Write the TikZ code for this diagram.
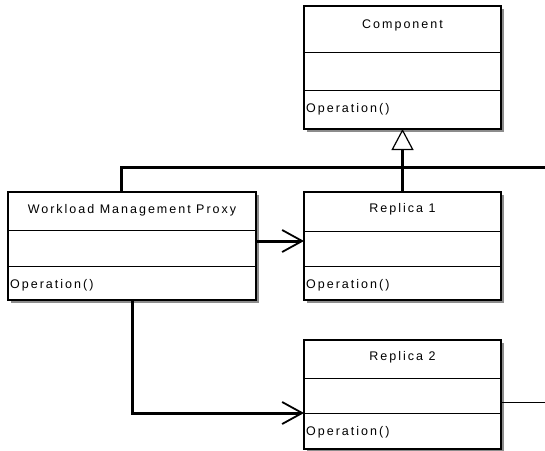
\documentclass[tikz,border=0pt]{standalone}
\usepackage{fontspec}
\setmainfont{Liberation Sans}[LetterSpace=16]
\usetikzlibrary{arrows.meta,shadows}
\begin{document}
\begin{tikzpicture}[x=1pt,y=-1pt,
  cls/.style={draw, line width=1.6pt, fill=white, inner sep=0pt, outer sep=0pt,
    drop shadow={shadow xshift=2.5pt, shadow yshift=-2.5pt, fill=black!45, opacity=1}},
  div/.style={line width=1pt},
  ttl/.style={font=\fontsize{12.5}{14}\selectfont, inner sep=0pt},
  op/.style={font=\fontsize{12.5}{14}\selectfont, inner sep=0pt, anchor=west},
  conn/.style={line width=3pt},
  nav/.style={conn, -{Straight Barb[length=20pt, width=22pt, line width=1.8pt]}},
  gen/.style={conn, -{Triangle[open, length=21pt, width=22pt, line width=1.2pt, fill=white]}}
]
\useasboundingbox (0,0) rectangle (545,450);

% classes
\node[cls, minimum width=197pt, minimum height=123pt] (comp) at (402.5,67.5) {};
\node[cls, minimum width=248pt, minimum height=108pt] (wmp) at (132,246) {};
\node[cls, minimum width=197pt, minimum height=108pt] (rep1) at (402.5,246) {};
\node[cls, minimum width=197pt, minimum height=109pt] (rep2) at (402.5,394.5) {};

% dividers
\draw[div] (304,52) -- (501,52);
\draw[div] (304,90) -- (501,90);
\draw[div] (8,230) -- (256,230);
\draw[div] (8,266) -- (256,266);
\draw[div] (304,231) -- (501,231);
\draw[div] (304,266) -- (501,266);
\draw[div] (304,378) -- (501,378);
\draw[div] (304,413) -- (501,413);

% texts
\node[ttl] (compT) at (402.5,25) {Component};
\node[ttl] (wmpT) at (132,210) {Workload Management Proxy};
\node[ttl] (rep1T) at (402.5,209) {Replica 1};
\node[ttl] (rep2T) at (402.5,357) {Replica 2};
\node[op] (compO) at (306,109) {Operation()};
\node[op] (wmpO) at (10,285) {Operation()};
\node[op] (rep1O) at (306,285) {Operation()};
\node[op] (rep2O) at (306,432) {Operation()};

% connectors
\coordinate (edgeA) at (545,167);
\coordinate (edgeB) at (545,402);
\draw[gen] (rep1.north) -- (comp.south);
\draw[conn] ([xshift=-11pt]wmp.north) |- (edgeA);
\draw[nav] ([yshift=5pt]wmp.east) -- ([yshift=5pt]rep1.west);
\draw[nav] (wmp.south) |- ([yshift=-18.5pt]rep2.west);
\draw[line width=1pt] ([yshift=-7.5pt]rep2.east) -- (edgeB);
\end{tikzpicture}
\end{document}
